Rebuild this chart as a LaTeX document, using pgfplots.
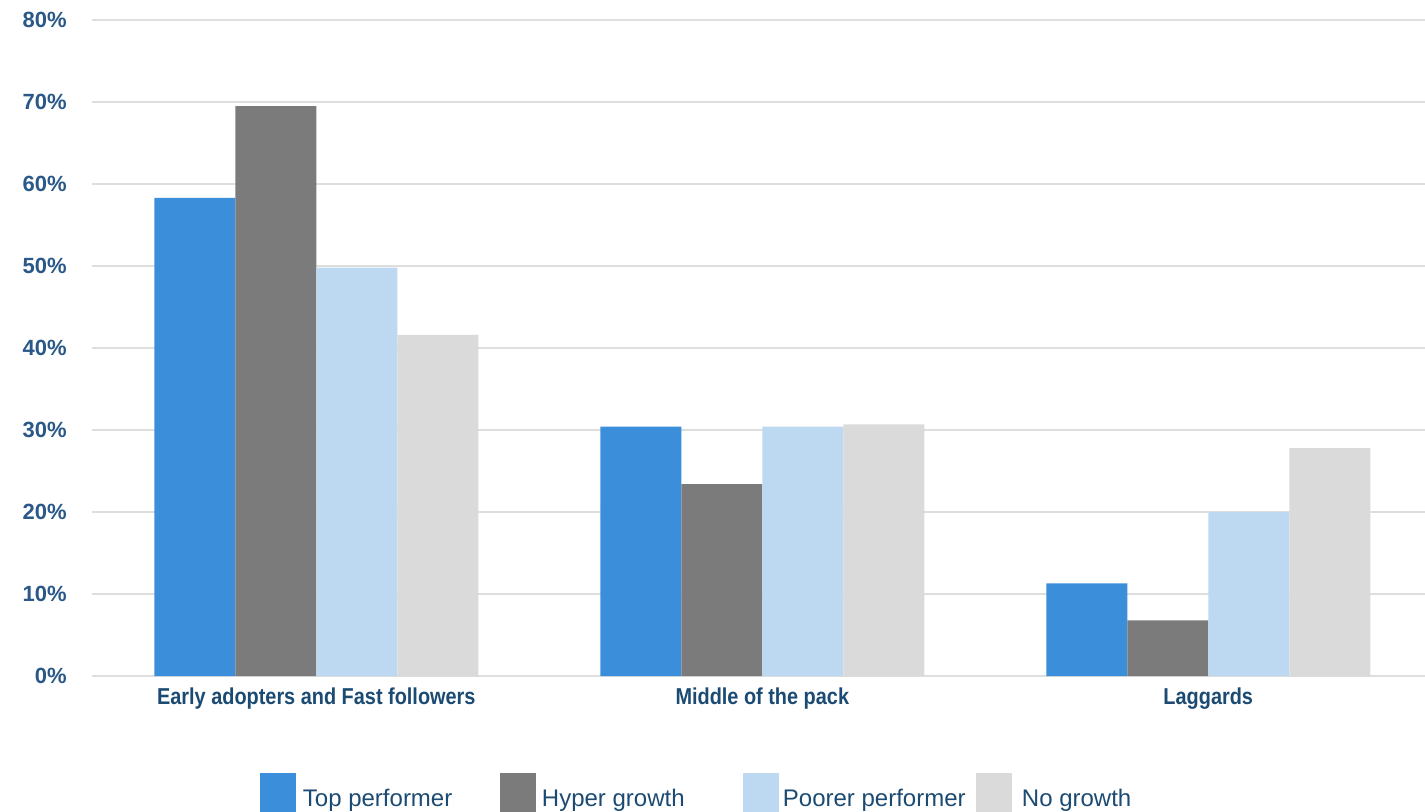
\documentclass[border=0pt]{standalone}
\usepackage{fontspec}
\setmainfont{Liberation Sans}
\newfontfamily\ticksfont{Liberation Sans Bold}
\newfontfamily\catfont[FakeStretch=0.865]{Liberation Sans Bold}
\usepackage{pgfplots}
\pgfplotsset{compat=1.18}

\definecolor{topperf}{HTML}{3A8EDA}
\definecolor{hyper}{HTML}{7B7B7B}
\definecolor{poorer}{HTML}{BDD8F1}
\definecolor{nogrowth}{HTML}{DADADA}
\definecolor{gridgray}{HTML}{DEDEDE}
\definecolor{tickblue}{HTML}{2A5888}
\definecolor{labelblue}{HTML}{1B4A72}

\begin{document}
\begin{tikzpicture}
\begin{axis}[
  name=ax, at={(0,0)}, anchor=south west,
  scale only axis, width=666.5pt, height=328pt,
  ybar=0pt, bar width=40.5pt,
  xmin=-0.503, xmax=2.486, ymin=0, ymax=80,
  axis line style={draw=none},
  major tick length=0pt,
  ymajorgrids, grid style={color=gridgray, line width=1.2pt},
  xtick={0,1,2},
  xticklabels={Early adopters and Fast followers, Middle of the pack, Laggards},
  ytick={0,10,20,30,40,50,60,70,80},
  yticklabels={0\%,10\%,20\%,30\%,40\%,50\%,60\%,70\%,80\%},
  yticklabel style={font=\ticksfont\fontsize{11}{13}\selectfont, text=tickblue,
    anchor=east, inner sep=0pt, xshift=-12.5pt},
  xticklabel style={font=\catfont\fontsize{11.5}{13}\selectfont, text=labelblue,
    anchor=north, inner sep=0pt, yshift=-5.5pt},
  legend columns=4,
  legend image code/.code={\fill[#1] (0pt,-9pt) rectangle (18pt,13pt);},
  legend style={at={(axis description cs:0.126,-0.1479)}, anchor=north west,
    draw=none, fill=none, inner sep=0pt, outer sep=0pt,
    column sep=0pt, row sep=0pt,
    font=\fontsize{12}{14}\selectfont, text=labelblue,
    cells={anchor=west}},
]
\addplot[fill=topperf, draw=none] coordinates {(0,58.3) (1,30.4) (2,11.3)};
\addlegendentry{\hspace*{1.5pt}\makebox[96.5pt][l]{Top performer}}
\addplot[fill=hyper, draw=none] coordinates {(0,69.5) (1,23.4) (2,6.8)};
\addlegendentry{\hspace*{1pt}\makebox[98.5pt][l]{Hyper growth}}
\addplot[fill=poorer, draw=none] coordinates {(0,49.8) (1,30.4) (2,20.0)};
\addlegendentry{\makebox[94.5pt][l]{Poorer performer}}
\addplot[fill=nogrowth, draw=none] coordinates {(0,41.6) (1,30.7) (2,27.8)};
\addlegendentry{\hspace*{3pt}No growth}
\end{axis}
\pgfresetboundingbox
\path[use as bounding box] (-46pt,-67.5pt) rectangle (666.5pt,338pt);
\end{tikzpicture}
\end{document}
